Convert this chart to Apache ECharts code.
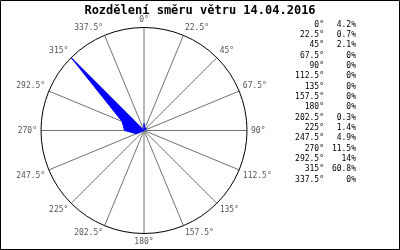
<!DOCTYPE html>
<html><head><meta charset="utf-8">
<script src="https://cdn.jsdelivr.net/npm/echarts@6/dist/echarts.min.js"></script>
<style>html,body{margin:0;padding:0;background:#fff}#c{width:400px;height:250px}</style>
</head><body><div id="c"></div>
<script>
const titleText = 'Rozdělení směru větru 14.04.2016';
const directions = [0, 22.5, 45, 67.5, 90, 112.5, 135, 157.5, 180, 202.5, 225, 247.5, 270, 292.5, 315, 337.5];
const percents = [4.2, 0.7, 2.1, 0, 0, 0, 0, 0, 0, 0.3, 1.4, 4.9, 11.5, 14, 60.8, 0];
const percentLabels = ['4.2%', '0.7%', '2.1%', '0%', '0%', '0%', '0%', '0%', '0%', '0.3%', '1.4%', '4.9%', '11.5%', '14%', '60.8%', '0%'];

const mono = '"DejaVu Sans Mono", "Liberation Mono", monospace';
const seriesData = directions.map((d, i) => [percents[i], d]);
seriesData.push([percents[0], 360]);

const legendTexts = [];
directions.forEach((d, i) => {
  const y = 25.5 + i * 10.33;
  legendTexts.push({type: 'text', right: 400 - 324, top: y - 5, style: {text: d + '°', font: '8px ' + mono, fill: '#000', textAlign: 'right'}});
  legendTexts.push({type: 'text', right: 400 - 356, top: y - 5, style: {text: percentLabels[i], font: '8px ' + mono, fill: '#000', textAlign: 'right'}});
});

const chart = echarts.init(document.getElementById('c'), null, {renderer: 'canvas'});
chart.setOption({
  animation: false,
  title: {text: titleText, left: 'center', top: 0, textStyle: {fontFamily: mono, fontWeight: 'bold', fontSize: 12, color: '#000'}},
  polar: {center: [144, 130.5], radius: 103},
  angleAxis: {
    type: 'value', min: 0, max: 360, interval: 22.5, startAngle: 90, clockwise: true,
    axisLine: {show: true, lineStyle: {color: '#000', width: 1}},
    axisTick: {show: false},
    splitLine: {show: true, lineStyle: {color: '#707070', width: 1}},
    axisLabel: {show: true, margin: 4, color: '#555', fontFamily: mono, fontSize: 8,
      formatter: v => v >= 360 ? '' : v + '°'}
  },
  radiusAxis: {type: 'value', min: 0, max: 60.8, axisLine: {show: false}, axisTick: {show: false}, axisLabel: {show: false}, splitLine: {show: false}},
  series: [{
    type: 'line', coordinateSystem: 'polar', data: seriesData, symbol: 'none',
    lineStyle: {color: '#0000ff', width: 1}, areaStyle: {color: '#0000ff', opacity: 1}
  }],
  graphic: [{type: 'rect', shape: {x: 0.5, y: 0.5, width: 399, height: 249}, style: {fill: 'none', stroke: '#000', lineWidth: 1}, z: 100}].concat(legendTexts)
});
</script></body></html>
